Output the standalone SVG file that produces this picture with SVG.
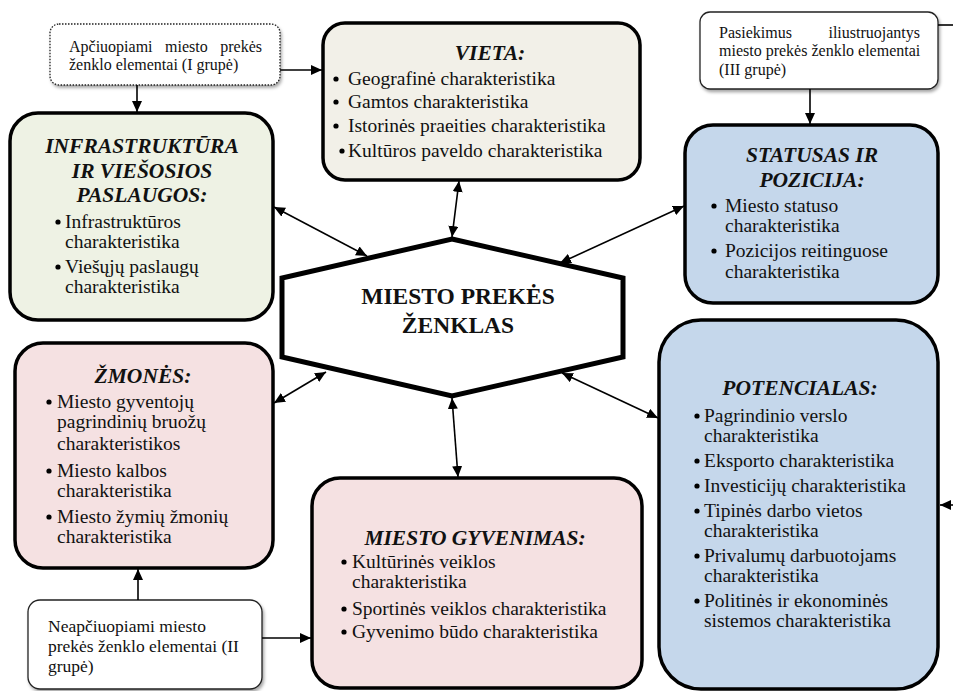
<svg xmlns="http://www.w3.org/2000/svg" width="953" height="691" viewBox="0 0 953 691" font-family="'Liberation Serif', 'DejaVu Serif', serif">
<defs>
<marker id="ah" markerUnits="userSpaceOnUse" markerWidth="12" markerHeight="10" refX="11" refY="5" orient="auto-start-reverse"><path d="M0,0 L11,5 L0,10 z" fill="#000"/></marker>
<filter id="sh" x="-10%" y="-10%" width="125%" height="130%"><feDropShadow dx="1.5" dy="2.5" stdDeviation="1.5" flood-color="#000" flood-opacity="0.35"/></filter>
<style>
text{font-family:'Liberation Serif','DejaVu Serif',serif;fill:#111}
.lbl{font-size:16px}
.lbl2{font-size:17.5px}
.t{font-size:21.5px;font-weight:bold;font-style:italic;text-anchor:middle}
.b{font-size:19.5px}
.box{stroke:#000;stroke-width:3.5}
.lb{fill:#fff;stroke:#222;stroke-width:1.3;filter:url(#sh)}
.c{stroke:#000;stroke-width:1.6;fill:none}
.d{stroke:#000;stroke-width:1.6;fill:none;marker-start:url(#ah);marker-end:url(#ah)}
.e{stroke:#000;stroke-width:1.6;fill:none;marker-end:url(#ah)}
</style>
</defs>

<g id="label1">
<rect class="lb" x="50" y="24" width="230" height="61" rx="9" stroke-dasharray="1.5 1.5"/>
<text class="lbl" y="52"><tspan x="69">Apčiuopiami</tspan><tspan x="165">miesto</tspan><tspan x="262" text-anchor="end">prekės</tspan></text>
<text class="lbl" x="69" y="70">ženklo elementai (I grupė)</text>
</g>

<g id="label3">
<rect class="lb" x="700" y="12" width="238" height="77" rx="10"/>
<text class="lbl" x="719" y="38">Pasiekimus</text>
<text class="lbl" x="920" y="38" text-anchor="end">iliustruojantys</text>
<text class="lbl" x="719" y="56">miesto prekės ženklo elementai</text>
<text class="lbl" x="719" y="75">(III grupė)</text>
</g>

<g id="label2">
<rect class="lb" x="28" y="600" width="234" height="89" rx="12"/>
<text class="lbl2" x="48" y="632">Neapčiuopiami miesto</text>
<text class="lbl2" x="48" y="652">prekės ženklo elementai (II</text>
<text class="lbl2" x="48" y="672">grupė)</text>
</g>

<g id="vieta">
<rect class="box" x="323" y="23" width="317" height="157" rx="22" fill="#F2F0E8"/>
<text class="t" x="490" y="60">VIETA:</text>
<circle cx="336" cy="79" r="2.6"/><text class="b" x="348" y="85">Geografinė charakteristika</text>
<circle cx="336" cy="102" r="2.6"/><text class="b" x="348" y="108">Gamtos charakteristika</text>
<circle cx="336" cy="126" r="2.6"/><text class="b" x="348" y="132">Istorinės praeities charakteristika</text>
<circle cx="342" cy="151" r="2.6"/><text class="b" x="348" y="157">Kultūros paveldo charakteristika</text>
</g>

<g id="infra">
<rect class="box" x="10" y="113" width="263" height="207" rx="28" fill="#EEF2E4"/>
<text class="t" x="142" y="153">INFRASTRUKTŪRA</text>
<text class="t" x="142" y="178">IR VIEŠOSIOS</text>
<text class="t" x="142" y="202">PASLAUGOS:</text>
<circle cx="58" cy="222" r="2.6"/><text class="b" x="65" y="228">Infrastruktūros</text>
<text class="b" x="65" y="248">charakteristika</text>
<circle cx="58" cy="267" r="2.6"/><text class="b" x="65" y="273">Viešųjų paslaugų</text>
<text class="b" x="65" y="293">charakteristika</text>
</g>

<g id="statusas">
<rect class="box" x="685" y="125" width="253" height="178" rx="28" fill="#C5D7EB"/>
<text class="t" x="812" y="162">STATUSAS IR</text>
<text class="t" x="812" y="187">POZICIJA:</text>
<circle cx="714" cy="206" r="2.6"/><text class="b" x="725" y="212">Miesto statuso</text>
<text class="b" x="725" y="232">charakteristika</text>
<circle cx="714" cy="251" r="2.6"/><text class="b" x="725" y="257">Pozicijos reitinguose</text>
<text class="b" x="725" y="278">charakteristika</text>
</g>

<g id="center">
<polygon points="452,239 623,278 623,357 452,396 282,357 282,278" fill="#fff" stroke="#000" stroke-width="5" stroke-linejoin="miter"/>
<text x="458" y="304" font-size="23.5" font-weight="bold" text-anchor="middle">MIESTO PREKĖS</text>
<text x="458" y="333" font-size="23.5" font-weight="bold" text-anchor="middle">ŽENKLAS</text>
</g>

<g id="zmones">
<rect class="box" x="15" y="343" width="258" height="225" rx="28" fill="#F5E1E2"/>
<text class="t" x="143" y="383">ŽMONĖS:</text>
<circle cx="49" cy="402" r="2.6"/><text class="b" x="57" y="408">Miesto gyventojų</text>
<text class="b" x="57" y="428">pagrindinių bruožų</text>
<text class="b" x="57" y="450">charakteristikos</text>
<circle cx="49" cy="471" r="2.6"/><text class="b" x="57" y="477">Miesto kalbos</text>
<text class="b" x="57" y="497">charakteristika</text>
<circle cx="49" cy="517" r="2.6"/><text class="b" x="57" y="523">Miesto žymių žmonių</text>
<text class="b" x="57" y="543">charakteristika</text>
</g>

<g id="gyvenimas">
<rect class="box" x="312" y="478" width="330" height="210" rx="28" fill="#F5E1E2"/>
<text class="t" x="475" y="545">MIESTO GYVENIMAS:</text>
<circle cx="344" cy="562" r="2.6"/><text class="b" x="352" y="568">Kultūrinės veiklos</text>
<text class="b" x="352" y="588">charakteristika</text>
<circle cx="344" cy="609" r="2.6"/><text class="b" x="352" y="615">Sportinės veiklos charakteristika</text>
<circle cx="344" cy="632" r="2.6"/><text class="b" x="352" y="638">Gyvenimo būdo charakteristika</text>
</g>

<g id="potencialas">
<rect class="box" x="659" y="320" width="279" height="369" rx="42" fill="#C5D7EB"/>
<text class="t" x="800" y="395">POTENCIALAS:</text>
<circle cx="697" cy="416" r="2.6"/><text class="b" x="704" y="422">Pagrindinio verslo</text>
<text class="b" x="704" y="442">charakteristika</text>
<circle cx="697" cy="461" r="2.6"/><text class="b" x="704" y="467">Eksporto charakteristika</text>
<circle cx="697" cy="486" r="2.6"/><text class="b" x="704" y="492">Investicijų charakteristika</text>
<circle cx="697" cy="511" r="2.6"/><text class="b" x="704" y="517">Tipinės darbo vietos</text>
<text class="b" x="704" y="537">charakteristika</text>
<circle cx="697" cy="556" r="2.6"/><text class="b" x="704" y="562">Privalumų darbuotojams</text>
<text class="b" x="704" y="582">charakteristika</text>
<circle cx="697" cy="601" r="2.6"/><text class="b" x="704" y="607">Politinės ir ekonominės</text>
<text class="b" x="704" y="627">sistemos charakteristika</text>
</g>

<g id="connectors">
<line class="e" x1="280" y1="70" x2="322" y2="70"/>
<line class="e" x1="137" y1="85" x2="137" y2="112"/>
<line class="e" x1="810" y1="89" x2="810" y2="124"/>
<line class="c" x1="938" y1="25" x2="953" y2="25"/>
<line class="e" x1="953" y1="505" x2="940" y2="505"/>
<line class="e" x1="138" y1="600" x2="138" y2="569"/>
<line class="e" x1="262" y1="638" x2="311" y2="638"/>
<line class="d" x1="274" y1="207" x2="367" y2="256"/>
<line class="d" x1="459" y1="181" x2="452" y2="237"/>
<line class="d" x1="684" y1="206" x2="560" y2="263"/>
<line class="d" x1="274" y1="403" x2="326" y2="372"/>
<line class="d" x1="562" y1="373" x2="658" y2="418"/>
<line class="d" x1="452" y1="398" x2="458" y2="477"/>
</g>
</svg>
